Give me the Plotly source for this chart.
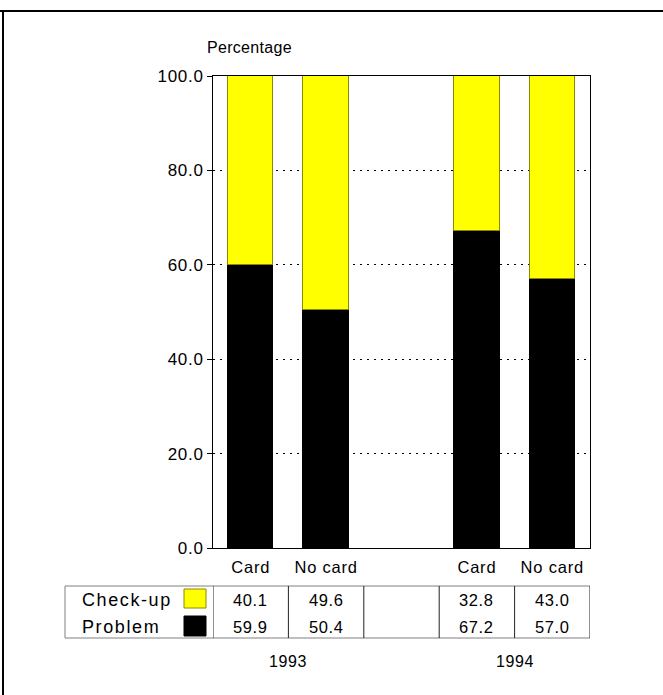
import plotly.graph_objects as go

# ---- data ----
categories = ["Card", "No card", "Card", "No card"]
positions = [0, 1, 3, 4]
years = ["1993", "1994"]
year_groups = [[0, 1], [3, 4]]
series_names = ["Check-up", "Problem"]
checkup = [40.1, 49.6, 32.8, 43.0]
problem = [59.9, 50.4, 67.2, 57.0]
y_ticks = [0, 20, 40, 60, 80, 100]
y_title = "Percentage"

# ---- layout helpers (pixel -> paper) ----
W, H = 663, 695
L, R, T, B = 213, 590, 76, 548


def px_x(p):
    return (p - L) / (R - L)


def px_y(p):
    return (B - p) / (B - T)


FONT = "Liberation Sans, Arial, sans-serif"
TXT = "#000000"


def ls(s, sp=1.5):
    return f'<span style="letter-spacing:{sp}px">{s}</span>'


YELLOW = "#ffff00"
YEL_EDGE = "#8a8a00"

fig = go.Figure()
fig.add_trace(go.Bar(
    x=positions, y=problem, name=series_names[1], width=0.6,
    marker=dict(color="#000000", line=dict(color="#000000", width=1)),
))
fig.add_trace(go.Bar(
    x=positions, y=checkup, name=series_names[0], width=0.6,
    marker=dict(color=YELLOW, line=dict(color=YEL_EDGE, width=1)),
))

shapes = []
# outer frame (top and left)
shapes.append(dict(type="line", xref="paper", yref="paper",
                   x0=px_x(0), x1=px_x(W), y0=px_y(11), y1=px_y(11),
                   line=dict(color="black", width=2)))
shapes.append(dict(type="line", xref="paper", yref="paper",
                   x0=px_x(3), x1=px_x(3), y0=px_y(11), y1=px_y(H),
                   line=dict(color="black", width=2)))

# table
tab_top, tab_bot = px_y(586), px_y(638)
tab_left = px_x(65)
xmin, xmax = positions[0] - 0.5, positions[-1] + 0.5
hcol = "#808080"
shapes.append(dict(type="line", xref="paper", yref="paper",
                   x0=tab_left, x1=1, y0=tab_top, y1=tab_top,
                   line=dict(color=hcol, width=1)))
shapes.append(dict(type="line", xref="paper", yref="paper",
                   x0=tab_left, x1=1, y0=tab_bot, y1=tab_bot,
                   line=dict(color=hcol, width=1)))
shapes.append(dict(type="line", xref="paper", yref="paper",
                   x0=tab_left, x1=tab_left, y0=tab_top, y1=tab_bot,
                   line=dict(color=hcol, width=1)))
k = xmin
while k <= xmax + 1e-9:
    shapes.append(dict(type="line", xref="x", yref="paper",
                       x0=k, x1=k, y0=tab_top, y1=tab_bot,
                       line=dict(color="#222222", width=1)))
    k += 1

# legend swatches in table
shapes.append(dict(type="rect", xref="paper", yref="paper",
                   x0=px_x(184), x1=px_x(206), y0=px_y(608), y1=px_y(589),
                   fillcolor=YELLOW, line=dict(color=YEL_EDGE, width=1)))
shapes.append(dict(type="rect", xref="paper", yref="paper",
                   x0=px_x(184), x1=px_x(206), y0=px_y(636), y1=px_y(616),
                   fillcolor="#000000", line=dict(color="#000000", width=1)))

annotations = []
annotations.append(dict(text=ls(y_title, 0.3), xref="paper", yref="paper",
                        x=px_x(205), y=px_y(48), xanchor="left", yanchor="middle",
                        showarrow=False, font=dict(family=FONT, size=16, color=TXT)))
row_y = [px_y(600), px_y(627)]
for name, vals, ry in zip(series_names, [checkup, problem], row_y):
    annotations.append(dict(text=ls(name, 1.6), xref="paper", yref="paper",
                            x=px_x(80), y=ry, xanchor="left", yanchor="middle",
                            showarrow=False, font=dict(family=FONT, size=18, color=TXT)))
    for xp, v in zip(positions, vals):
        annotations.append(dict(text=ls(f"{v:.1f}", 0.6), xref="x", yref="paper",
                                x=xp, y=ry, xanchor="center", yanchor="middle",
                                showarrow=False, font=dict(family=FONT, size=16.5, color=TXT)))
for yr, grp in zip(years, year_groups):
    annotations.append(dict(text=ls(yr, 0.6), xref="x", yref="paper",
                            x=sum(grp) / len(grp), y=px_y(661), xanchor="center",
                            yanchor="middle", showarrow=False,
                            font=dict(family=FONT, size=16, color=TXT)))

fig.update_layout(
    width=W, height=H,
    margin=dict(l=L, r=W - R, t=T, b=H - B, pad=0),
    barmode="stack", bargap=0,
    showlegend=False,
    paper_bgcolor="white", plot_bgcolor="white",
    font=dict(family=FONT, size=16, color=TXT),
    shapes=shapes, annotations=annotations,
    xaxis=dict(range=[xmin, xmax], tickvals=positions,
               ticktext=[ls(c, 0.8) for c in categories],
               showline=True, mirror=True, linecolor="black", linewidth=1,
               ticks="", showgrid=False, zeroline=False, fixedrange=True,
               ticklabelstandoff=4,
               tickfont=dict(family=FONT, size=16.5, color=TXT)),
    yaxis=dict(range=[0, 100], tickvals=y_ticks,
               ticktext=[ls(f"{t:.1f}", 0.7) for t in y_ticks],
               showline=True, mirror=True, linecolor="black", linewidth=1,
               ticks="outside", ticklen=5, tickcolor="black", tickwidth=1,
               showgrid=True, gridcolor="black", gridwidth=1,
               griddash="2px,5px", zeroline=False, fixedrange=True,
               tickfont=dict(family=FONT, size=17, color=TXT)),
)

fig.write_html("out.html", config={"displayModeBar": False},
               post_script="document.body.style.margin='0';")
